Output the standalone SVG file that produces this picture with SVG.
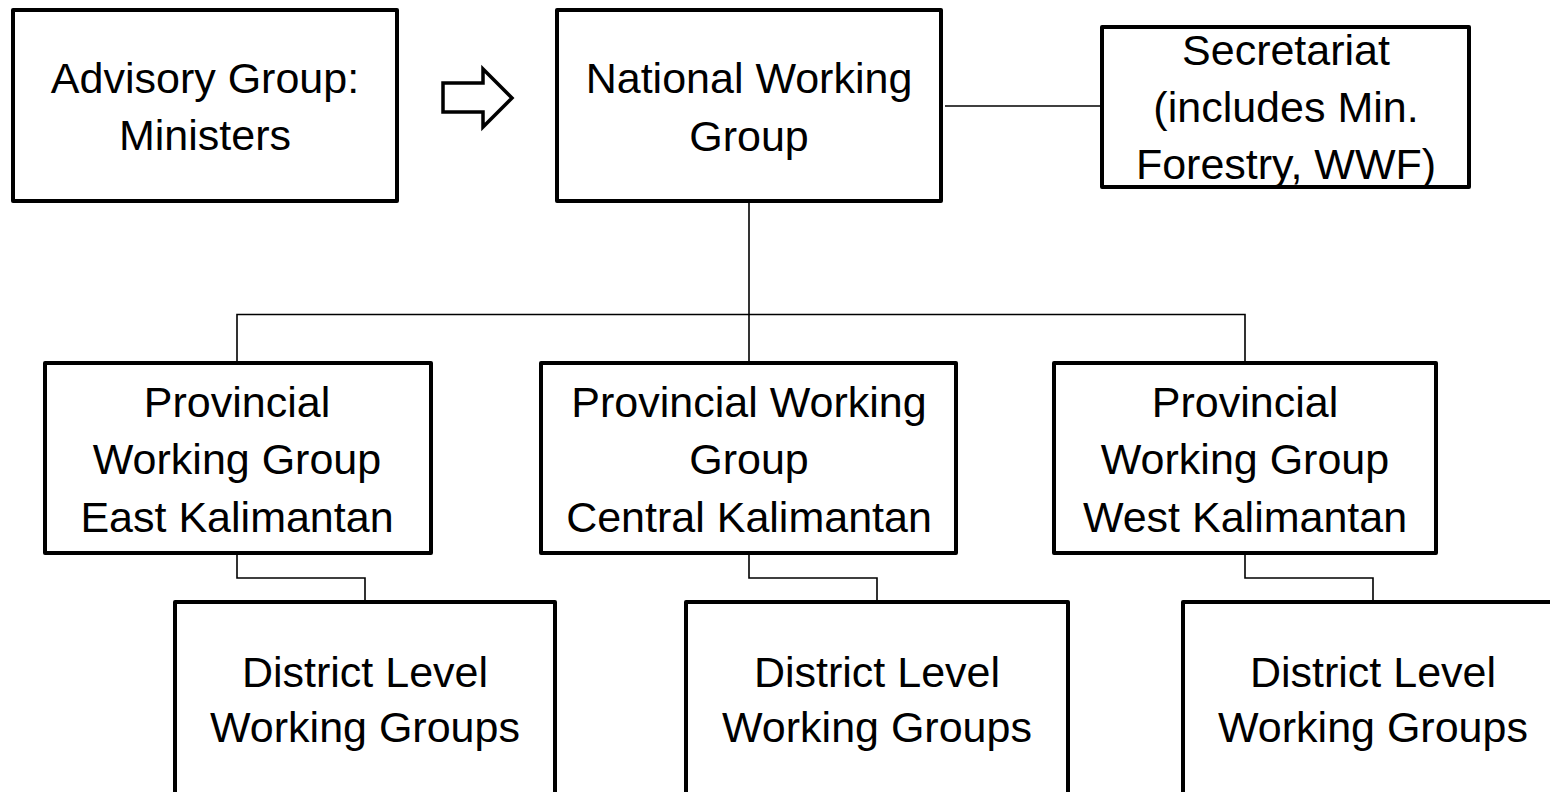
<svg xmlns="http://www.w3.org/2000/svg" width="1550" height="792" viewBox="0 0 1550 792">
  <style>
    .box { fill: #ffffff; stroke: #000000; stroke-width: 4; stroke-linejoin: round; }
    .conn { fill: none; stroke: #000000; stroke-width: 1.6; }
    .lbl { font-family: "Liberation Sans", Arial, sans-serif; font-size: 43px; fill: #000000; text-anchor: middle; }
    .arrow { fill: #ffffff; stroke: #000000; stroke-width: 3.5; stroke-linejoin: miter; }
  </style>
  <rect width="1550" height="792" fill="#ffffff"/>

  <g id="connectors">
    <line class="conn" x1="945" y1="106" x2="1100" y2="106"/>
    <line class="conn" x1="749" y1="203" x2="749" y2="361"/>
    <polyline class="conn" points="237,361 237,314.5 1245,314.5 1245,361"/>
    <polyline class="conn" points="237,555 237,578 365,578 365,600"/>
    <polyline class="conn" points="749,555 749,578 877,578 877,600"/>
    <polyline class="conn" points="1245,555 1245,578 1373,578 1373,600"/>
  </g>

  <g id="arrow-advisory-national">
    <polygon class="arrow" points="443,83 483,83 483,69 512,98 483,127 483,112 443,112"/>
  </g>

  <g id="advisory">
    <rect class="box" x="13" y="10" width="384" height="191"/>
    <text class="lbl" x="205" y="93">Advisory Group:</text>
    <text class="lbl" x="205" y="150">Ministers</text>
  </g>

  <g id="national">
    <rect class="box" x="557" y="10" width="384" height="191"/>
    <text class="lbl" x="749" y="93">National Working</text>
    <text class="lbl" x="749" y="151">Group</text>
  </g>

  <g id="secretariat">
    <rect class="box" x="1102" y="27" width="367" height="160"/>
    <text class="lbl" x="1286" y="65">Secretariat</text>
    <text class="lbl" x="1286" y="122">(includes Min.</text>
    <text class="lbl" x="1286" y="179">Forestry, WWF)</text>
  </g>

  <g id="prov-east">
    <rect class="box" x="45" y="363" width="386" height="190"/>
    <text class="lbl" x="237" y="417">Provincial</text>
    <text class="lbl" x="237" y="474">Working Group</text>
    <text class="lbl" x="237" y="532">East Kalimantan</text>
  </g>

  <g id="prov-central">
    <rect class="box" x="541" y="363" width="415" height="190"/>
    <text class="lbl" x="749" y="417">Provincial Working</text>
    <text class="lbl" x="749" y="474">Group</text>
    <text class="lbl" x="749" y="532">Central Kalimantan</text>
  </g>

  <g id="prov-west">
    <rect class="box" x="1054" y="363" width="382" height="190"/>
    <text class="lbl" x="1245" y="417">Provincial</text>
    <text class="lbl" x="1245" y="474">Working Group</text>
    <text class="lbl" x="1245" y="532">West Kalimantan</text>
  </g>

  <g id="district-east">
    <rect class="box" x="175" y="602" width="380" height="220"/>
    <text class="lbl" x="365" y="687">District Level</text>
    <text class="lbl" x="365" y="742">Working Groups</text>
  </g>

  <g id="district-central">
    <rect class="box" x="686" y="602" width="382" height="220"/>
    <text class="lbl" x="877" y="687">District Level</text>
    <text class="lbl" x="877" y="742">Working Groups</text>
  </g>

  <g id="district-west">
    <rect class="box" x="1183" y="602" width="400" height="220"/>
    <text class="lbl" x="1373" y="687">District Level</text>
    <text class="lbl" x="1373" y="742">Working Groups</text>
  </g>
</svg>
